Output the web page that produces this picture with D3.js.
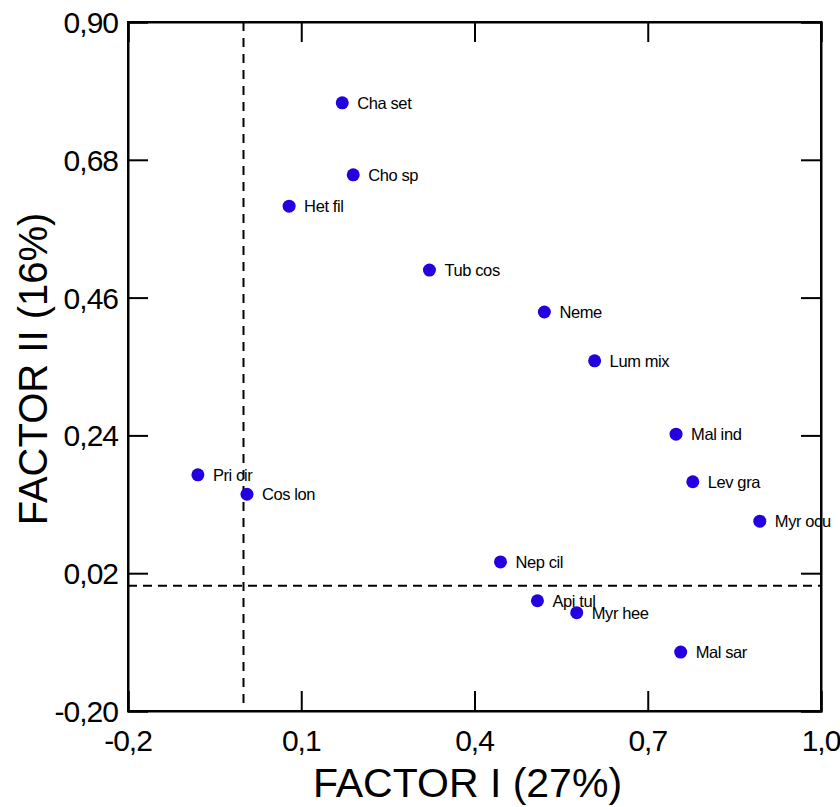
<!DOCTYPE html>
<html>
<head>
<meta charset="utf-8">
<script src="https://cdn.jsdelivr.net/npm/d3@7"></script>
<style>
  body { margin: 0; background: #fff; }
  svg { display: block; font-family: "Liberation Sans", Arial, sans-serif; }
</style>
</head>
<body>
<script>
// species codes and their loadings on factor I / factor II
var species = ["Cha set", "Cho sp", "Het fil", "Tub cos", "Neme", "Lum mix", "Mal ind",
               "Lev gra", "Myr ocu", "Pri cir", "Cos lon", "Nep cil", "Api tul", "Myr hee", "Mal sar"]
var factor1 = [0.171, 0.190, 0.079, 0.322, 0.521, 0.608, 0.749,
               0.778, 0.894, -0.079, 0.006, 0.445, 0.509, 0.577, 0.757]
var factor2 = [0.771, 0.656, 0.606, 0.504, 0.437, 0.359, 0.242,
               0.166, 0.103, 0.177, 0.146, 0.038, -0.024, -0.043, -0.106]

var xTicks = [-0.2, 0.1, 0.4, 0.7, 1.0]
var yTicks = [-0.20, 0.02, 0.24, 0.46, 0.68, 0.90]

var width = 840, height = 807
var margin = {top: 22, right: 19, bottom: 96, left: 128}

var svg = d3.select("body").append("svg")
    .attr("width", width)
    .attr("height", height)

var x = d3.scaleLinear().domain([-0.2, 1.0]).range([margin.left, width - margin.right])
var y = d3.scaleLinear().domain([-0.20, 0.90]).range([height - margin.bottom, margin.top])

// decimal comma, plain hyphen for minus
var locale = d3.formatLocale({decimal: ",", thousands: ".", grouping: [3], currency: ["", ""], minus: "-"})
var comma = function(digits){
    return locale.format("." + digits + "f")
}

// frame with inward ticks on all sides
var tickLen = 20
svg.append("g")
    .attr("transform", "translate(0," + y.range()[0] + ")")
    .call(d3.axisTop(x).tickValues(xTicks).tickSize(tickLen).tickFormat(""))
svg.append("g")
    .attr("transform", "translate(0," + y.range()[1] + ")")
    .call(d3.axisBottom(x).tickValues(xTicks).tickSize(tickLen).tickFormat(""))
svg.append("g")
    .attr("transform", "translate(" + x.range()[0] + ",0)")
    .call(d3.axisRight(y).tickValues(yTicks).tickSize(tickLen).tickFormat(""))
svg.append("g")
    .attr("transform", "translate(" + x.range()[1] + ",0)")
    .call(d3.axisLeft(y).tickValues(yTicks).tickSize(tickLen).tickFormat(""))

svg.selectAll(".domain").attr("stroke", "#000").attr("stroke-width", 2)
svg.selectAll(".tick line").attr("stroke", "#000").attr("stroke-width", 2)

svg.append("rect")
    .attr("x", x.range()[0]).attr("y", y.range()[1])
    .attr("width", x.range()[1] - x.range()[0])
    .attr("height", y.range()[0] - y.range()[1])
    .attr("fill", "none").attr("stroke", "#000").attr("stroke-width", 2)

// tick labels
svg.append("g").selectAll("text")
    .data(xTicks)
    .enter()
    .append("text")
    .attr("x", (d) => {return x(d)})
    .attr("y", y.range()[0] + 40)
    .attr("text-anchor", "middle")
    .attr("font-size", 30)
    .attr("letter-spacing", -1)
    .text(comma(1))

svg.append("g").selectAll("text")
    .data(yTicks)
    .enter()
    .append("text")
    .attr("x", x.range()[0] - 10)
    .attr("y", (d) => {return y(d) + 11})
    .attr("text-anchor", "end")
    .attr("font-size", 30)
    .attr("letter-spacing", -1)
    .text(comma(2))

// zero reference lines
svg.append("line")
    .attr("x1", x(0)).attr("x2", x(0))
    .attr("y1", y.range()[1]).attr("y2", y.range()[0])
    .attr("stroke", "#000").attr("stroke-width", 2)
    .attr("stroke-dasharray", "9,7")
svg.append("line")
    .attr("x1", x.range()[0]).attr("x2", x.range()[1])
    .attr("y1", y(0)).attr("y2", y(0))
    .attr("stroke", "#000").attr("stroke-width", 2)
    .attr("stroke-dasharray", "9,6")

// points
var data = species.map((s, i) => {return {name: s, f1: factor1[i], f2: factor2[i]}})

svg.append("g").selectAll("circle")
    .data(data)
    .enter()
    .append("circle")
    .attr("cx", (d) => {return x(d.f1)})
    .attr("cy", (d) => {return y(d.f2)})
    .attr("r", 6.5)
    .attr("fill", "#2200e0")

svg.append("g").selectAll("text")
    .data(data)
    .enter()
    .append("text")
    .attr("x", (d) => {return x(d.f1) + 15})
    .attr("y", (d) => {return y(d.f2) + 6})
    .attr("font-size", 16.5)
    .attr("letter-spacing", -0.4)
    .text((d) => {return d.name})

// axis titles
svg.append("text")
    .attr("x", (x.range()[0] + x.range()[1]) / 2 - 7)
    .attr("y", 797)
    .attr("text-anchor", "middle")
    .attr("font-size", 41)
    .text("FACTOR I (27%)")

svg.append("text")
    .attr("transform", "translate(47,369) rotate(-90)")
    .attr("text-anchor", "middle")
    .attr("font-size", 40)
    .text("FACTOR II (16%)")
</script>
</body>
</html>
